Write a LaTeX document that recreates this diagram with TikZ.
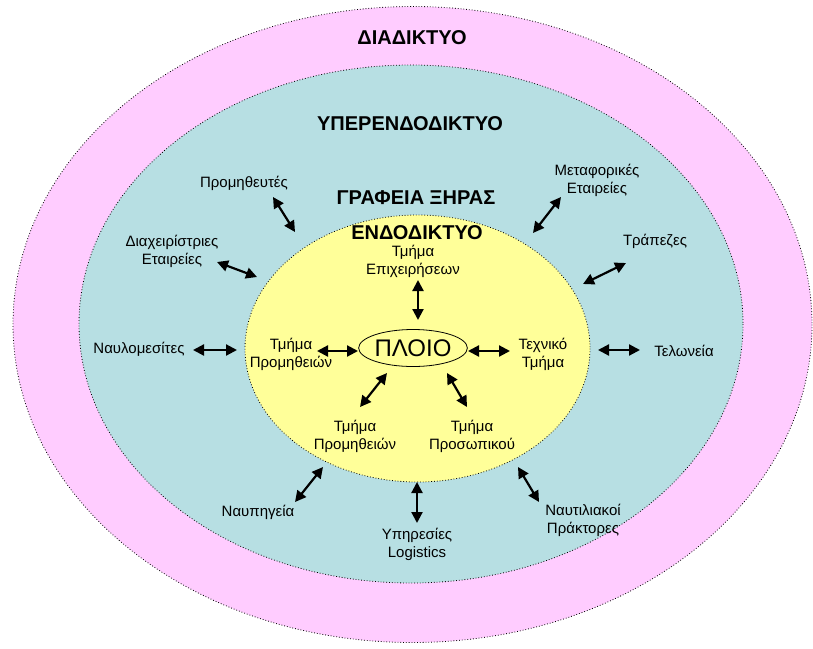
\documentclass[tikz,border=0pt]{standalone}
\usepackage{fontspec}
\setmainfont{Liberation Sans}
\usetikzlibrary{arrows.meta,shapes.geometric}
\definecolor{pinkring}{HTML}{FFCCFF}
\definecolor{tealring}{HTML}{B7DFE3}
\definecolor{yellowcore}{HTML}{FFFF99}
\tikzset{
  ring/.style={draw,dotted,line width=0.8pt},
  biarrow/.style={line width=2.2pt,{Triangle[length=11pt,width=11pt]}-{Triangle[length=11pt,width=11pt]}},
  lbl/.style={font=\fontsize{15}{18}\selectfont,align=center,inner sep=0pt},
  ringtitle/.style={font=\fontsize{20}{22}\selectfont\bfseries,inner sep=0pt},
}
\begin{document}
\begin{tikzpicture}[x=1pt,y=-1pt]
        \useasboundingbox (0,0) rectangle (813,648);
        % rings
        \filldraw[ring,fill=pinkring] (412.5,324.5) ellipse [x radius=399.5, y radius=318];
        \filldraw[ring,fill=tealring] (411,324) ellipse [x radius=332, y radius=259];
        \filldraw[ring,fill=yellowcore] (417.5,348.5) ellipse [x radius=172.5, y radius=133.5];
        \node[ringtitle] (diadiktyo) at (412,38) {ΔΙΑΔΙΚΤΥΟ};
        \node[ringtitle] (yperendo) at (410,124) {ΥΠΕΡΕΝΔΟΔΙΚΤΥΟ};
        \node[ringtitle] (grafeia) at (416,198) {ΓΡΑΦΕΙΑ ΞΗΡΑΣ};
        \node[ringtitle] (endo) at (417,233) {ΕΝΔΟΔΙΚΤΥΟ};
        % ship and departments
        \node[draw,ellipse,line width=0.8pt,inner sep=0pt,minimum width=92pt,minimum height=37pt,font=\fontsize{24}{26}\selectfont] (ploio) at (413,348) {ΠΛΟΙΟ};
        \node[lbl] (epix) at (413,261) {Τμήμα\\Επιχειρήσεων};
        \node[lbl] (promL) at (291,354) {Τμήμα\\Προμηθειών};
        \node[lbl] (techn) at (543,354) {Τεχνικό\\Τμήμα};
        \node[lbl] (promB) at (355,436) {Τμήμα\\Προμηθειών};
        \node[lbl] (prosop) at (472,436) {Τμήμα\\Προσωπικού};
        % outside partners
        \node[lbl] (promith) at (244,183) {Προμηθευτές};
        \node[lbl] (diax) at (172,251) {Διαχειρίστριες\\Εταιρείες};
        \node[lbl] (navlo) at (139,349) {Ναυλομεσίτες};
        \node[lbl] (metaf) at (597,180) {Μεταφορικές\\Εταιρείες};
        \node[lbl] (trap) at (655,241) {Τράπεζες};
        \node[lbl] (telon) at (684,351) {Τελωνεία};
        \node[lbl] (navpig) at (258,512) {Ναυπηγεία};
        \node[lbl] (logist) at (417,544) {Υπηρεσίες\\Logistics};
        \node[lbl] (naftil) at (583,520) {Ναυτιλιακοί\\Πράκτορες};
        % arrow ends
        \coordinate (epixA) at (418,280);   \coordinate (epixB) at (418,320);
        \coordinate (promLA) at (317,351);  \coordinate (promLB) at (358,351);
        \coordinate (technA) at (468,351);  \coordinate (technB) at (510,351);
        \coordinate (promBA) at (387,373);  \coordinate (promBB) at (360,407);
        \coordinate (prosopA) at (447,373); \coordinate (prosopB) at (467,407);
        \coordinate (promithA) at (273,197); \coordinate (promithB) at (295,232);
        \coordinate (diaxA) at (217,262);   \coordinate (diaxB) at (257,277);
        \coordinate (navloA) at (193,350);  \coordinate (navloB) at (237,350);
        \coordinate (metafA) at (561,197);  \coordinate (metafB) at (533,233);
        \coordinate (trapA) at (626,263);   \coordinate (trapB) at (583,284);
        \coordinate (telonA) at (598,350);  \coordinate (telonB) at (640,350);
        \coordinate (navpigA) at (323,467); \coordinate (navpigB) at (295,502);
        \coordinate (logistA) at (417,482); \coordinate (logistB) at (417,523);
        \coordinate (naftilA) at (518,467); \coordinate (naftilB) at (539,502);
        \foreach \n in {epix,promL,techn,promB,prosop,promith,diax,navlo,metaf,trap,telon,navpig,logist,naftil}
            \draw[biarrow] (\n A) -- (\n B);
    \end{tikzpicture}
\end{document}
